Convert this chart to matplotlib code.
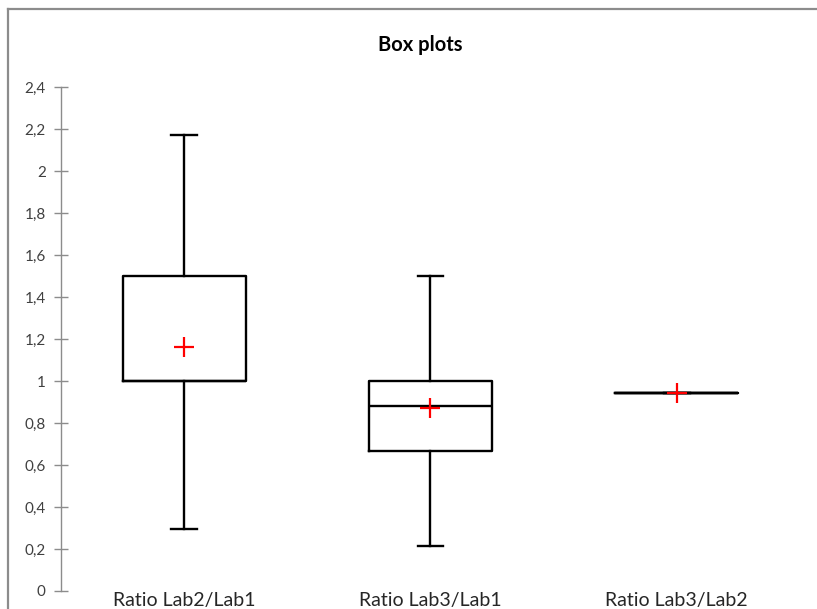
import matplotlib
matplotlib.use('Agg')
import matplotlib.pyplot as plt
from matplotlib.lines import Line2D
from matplotlib.ticker import FuncFormatter

plt.rcParams['font.family'] = ['Lato', 'DejaVu Sans']

# Box statistics
labels = ['Ratio Lab2/Lab1', 'Ratio Lab3/Lab1', 'Ratio Lab3/Lab2']
whislo = [0.295, 0.214, 0.943]
q1 = [1.0, 0.667, 0.943]
med = [1.0, 0.881, 0.943]
q3 = [1.5, 1.0, 0.943]
whishi = [2.171, 1.5, 0.943]
means = [1.162, 0.871, 0.943]

stats = []
for i in range(len(labels)):
    stats.append(dict(label=labels[i], whislo=whislo[i], q1=q1[i], med=med[i],
                      q3=q3[i], whishi=whishi[i], mean=means[i], fliers=[]))

fig = plt.figure(figsize=(8.17, 6.09), dpi=100)
ax = fig.add_axes([0.0747, 0.0296, 0.9043, 0.8274])

line_kw = dict(color='black', linewidth=1.7)
ax.bxp(stats, positions=[0, 1, 2], widths=0.5, capwidths=0.105,
       showmeans=True, showfliers=False,
       boxprops=line_kw, whiskerprops=line_kw, capprops=line_kw,
       medianprops=line_kw,
       meanprops=dict(marker='+', markeredgecolor='red', markersize=14,
                      markeredgewidth=1.6))

ax.set_xlim(-0.5, 2.5)
ax.set_ylim(0, 2.4)
ax.set_yticks([i * 0.2 for i in range(13)])
ax.yaxis.set_major_formatter(FuncFormatter(lambda v, p: f'{v:.1f}'.rstrip('0').rstrip('.').replace('.', ',')))

for s in ['top', 'right', 'bottom']:
    ax.spines[s].set_visible(False)
ax.spines['left'].set_color('#8c8c8c')
ax.spines['left'].set_linewidth(1.0)
ax.tick_params(axis='y', direction='inout', length=10, width=1.0, color='#8c8c8c',
               labelsize=11, labelcolor='#404040', pad=6)
ax.tick_params(axis='x', length=0, labelsize=14, labelcolor='#262626', pad=1)

fig.text(0.514, 0.926, 'Box plots', ha='center', va='center',
         fontsize=14.5, fontweight='bold', color='black')

# outer frame (top and left edges visible)
fig.add_artist(Line2D([8 / 817, 1], [1 - 9 / 609, 1 - 9 / 609], color='#8c8c8c',
                      linewidth=1.6, transform=fig.transFigure))
fig.add_artist(Line2D([8 / 817, 8 / 817], [0, 1 - 9 / 609], color='#8c8c8c',
                      linewidth=1.6, transform=fig.transFigure))

fig.savefig('out.png', dpi=100)
